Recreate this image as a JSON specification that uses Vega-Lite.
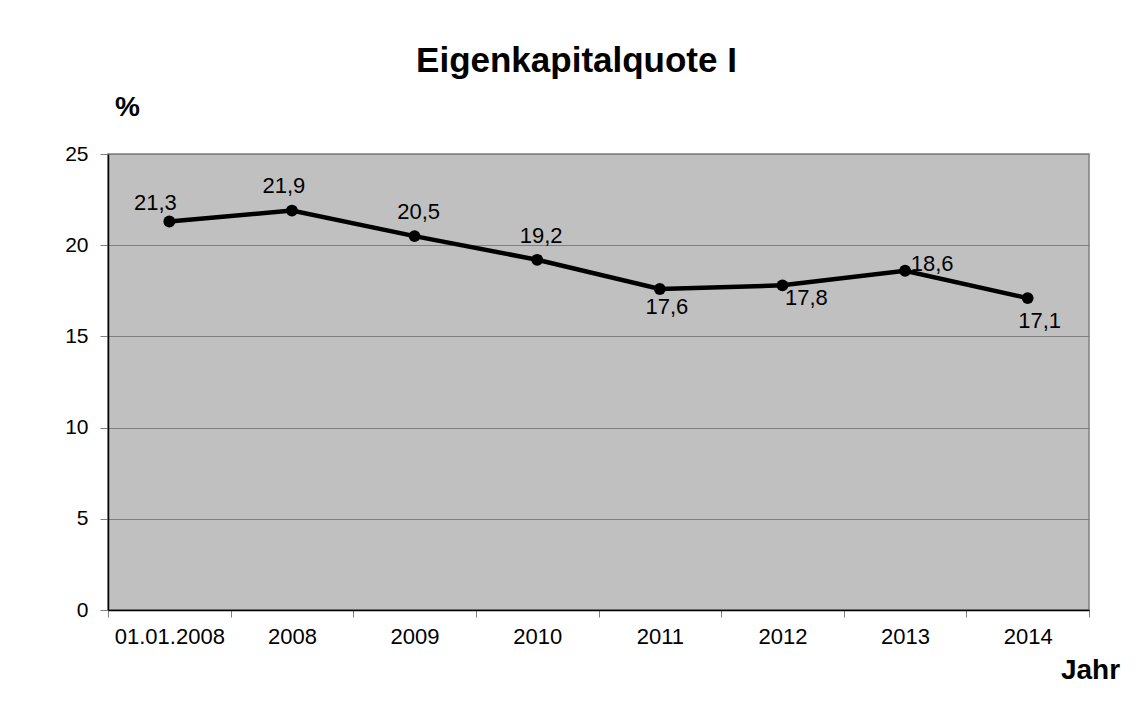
{
  "$schema": "https://vega.github.io/schema/vega-lite/v6.json",
  "width": 981,
  "height": 456,
  "autosize": {"type": "none"},
  "padding": {"left": 108, "top": 154, "right": 58, "bottom": 107},
  "background": "white",
  "config": {
    "font": "Liberation Sans",
    "locale": {"number": {"decimal": ",", "thousands": ".", "grouping": [3], "currency": ["", " €"]}},
    "view": {"fill": "#c0c0c0", "stroke": "#808080", "strokeWidth": 1.5}
  },
  "title": {
    "text": "Eigenkapitalquote I",
    "fontSize": 35,
    "fontWeight": "bold",
    "color": "black",
    "anchor": "middle",
    "frame": "group",
    "dx": -22,
    "offset": 14
  },
  "data": {
    "values": [
      {"Jahr": "01.01.2008", "value": 21.3},
      {"Jahr": "2008", "value": 21.9},
      {"Jahr": "2009", "value": 20.5},
      {"Jahr": "2010", "value": 19.2},
      {"Jahr": "2011", "value": 17.6},
      {"Jahr": "2012", "value": 17.8},
      {"Jahr": "2013", "value": 18.6},
      {"Jahr": "2014", "value": 17.1}
    ]
  },
  "encoding": {
    "x": {
      "field": "Jahr",
      "type": "ordinal",
      "sort": null,
      "scale": {"type": "band", "paddingInner": 0, "paddingOuter": 0},
      "axis": {
        "title": "Jahr",
        "tickBand": "extent",
        "labelAngle": 0,
        "grid": false,
        "domainColor": "black",
        "domainWidth": 1.5,
        "tickColor": "#808080",
        "tickSize": 7,
        "labelFontSize": 22,
        "labelColor": "black",
        "labelPadding": 9,
        "titleX": 982,
        "titleY": 60,
        "titleFontSize": 28,
        "titleFontWeight": "bold",
        "titleAlign": "center",
        "titleBaseline": "middle",
        "titleColor": "black"
      }
    },
    "y": {
      "field": "value",
      "type": "quantitative",
      "scale": {"domain": [0, 25], "nice": false},
      "axis": {
        "values": [0, 5, 10, 15, 20, 25],
        "title": "%",
        "titleAngle": 0,
        "titleX": 19,
        "titleY": -47,
        "titleAlign": "center",
        "titleBaseline": "middle",
        "titleFontSize": 28,
        "titleFontWeight": "bold",
        "titleColor": "black",
        "grid": true,
        "gridColor": "#808080",
        "gridWidth": 1,
        "domainColor": "black",
        "domainWidth": 1.5,
        "tickColor": "#808080",
        "tickSize": 8,
        "labelPadding": 12,
        "labelFontSize": 21,
        "labelColor": "black"
      }
    }
  },
  "layer": [
    {
      "mark": {"type": "line", "color": "black", "strokeWidth": 4.5, "point": {"filled": true, "size": 140, "color": "black"}}
    },
    {
      "transform": [{"filter": "datum.Jahr === '01.01.2008'"}],
      "mark": {"type": "text", "dx": -14, "dy": -18, "fontSize": 22, "align": "center", "baseline": "middle", "color": "black"},
      "encoding": {"text": {"field": "value", "type": "quantitative", "format": ".1f"}}
    },
    {
      "transform": [{"filter": "datum.Jahr === '2008'"}],
      "mark": {"type": "text", "dx": -8, "dy": -25, "fontSize": 22, "align": "center", "baseline": "middle", "color": "black"},
      "encoding": {"text": {"field": "value", "type": "quantitative", "format": ".1f"}}
    },
    {
      "transform": [{"filter": "datum.Jahr === '2009'"}],
      "mark": {"type": "text", "dx": 4, "dy": -24, "fontSize": 22, "align": "center", "baseline": "middle", "color": "black"},
      "encoding": {"text": {"field": "value", "type": "quantitative", "format": ".1f"}}
    },
    {
      "transform": [{"filter": "datum.Jahr === '2010'"}],
      "mark": {"type": "text", "dx": 4, "dy": -24, "fontSize": 22, "align": "center", "baseline": "middle", "color": "black"},
      "encoding": {"text": {"field": "value", "type": "quantitative", "format": ".1f"}}
    },
    {
      "transform": [{"filter": "datum.Jahr === '2011'"}],
      "mark": {"type": "text", "dx": 7, "dy": 18, "fontSize": 22, "align": "center", "baseline": "middle", "color": "black"},
      "encoding": {"text": {"field": "value", "type": "quantitative", "format": ".1f"}}
    },
    {
      "transform": [{"filter": "datum.Jahr === '2012'"}],
      "mark": {"type": "text", "dx": 24, "dy": 13, "fontSize": 22, "align": "center", "baseline": "middle", "color": "black"},
      "encoding": {"text": {"field": "value", "type": "quantitative", "format": ".1f"}}
    },
    {
      "transform": [{"filter": "datum.Jahr === '2013'"}],
      "mark": {"type": "text", "dx": 27, "dy": -7, "fontSize": 22, "align": "center", "baseline": "middle", "color": "black"},
      "encoding": {"text": {"field": "value", "type": "quantitative", "format": ".1f"}}
    },
    {
      "transform": [{"filter": "datum.Jahr === '2014'"}],
      "mark": {"type": "text", "dx": 12, "dy": 23, "fontSize": 22, "align": "center", "baseline": "middle", "color": "black"},
      "encoding": {"text": {"field": "value", "type": "quantitative", "format": ".1f"}}
    }
  ]
}
